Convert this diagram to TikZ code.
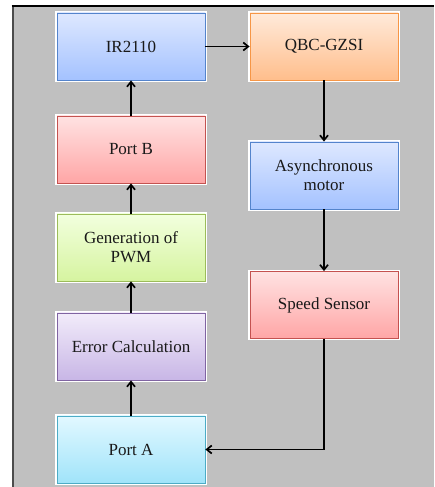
\documentclass[tikz,border=0pt]{standalone}
\usepackage{fontspec}
\setmainfont{Liberation Serif}
\newfontfamily\boxfont{Liberation Serif}
\usetikzlibrary{arrows.meta}

\definecolor{panel}{RGB}{192,192,192}
\definecolor{bluetop}{RGB}{222,232,255}
\definecolor{bluebot}{RGB}{164,194,255}
\definecolor{blueline}{RGB}{84,132,204}
\definecolor{orangetop}{RGB}{255,234,218}
\definecolor{orangebot}{RGB}{255,190,140}
\definecolor{orangeline}{RGB}{246,150,70}
\definecolor{redtop}{RGB}{255,226,226}
\definecolor{redbot}{RGB}{255,166,166}
\definecolor{redline}{RGB}{196,82,80}
\definecolor{greentop}{RGB}{242,255,222}
\definecolor{greenbot}{RGB}{214,244,160}
\definecolor{greenline}{RGB}{156,188,90}
\definecolor{purpletop}{RGB}{242,236,250}
\definecolor{purplebot}{RGB}{200,182,230}
\definecolor{purpleline}{RGB}{128,100,162}
\definecolor{cyantop}{RGB}{226,248,255}
\definecolor{cyanbot}{RGB}{160,228,250}
\definecolor{cyanline}{RGB}{76,172,198}

\begin{document}
\begin{tikzpicture}[x=1pt,y=1pt,
  box/.style={rectangle,minimum width=148pt,minimum height=67pt,align=center,
    font=\boxfont\fontsize{17}{19}\selectfont,text=black!90,line width=0.8pt,
    preaction={draw=white,line width=3.5pt}},
  flow/.style={-{Straight Barb[length=5pt,width=8pt]},line width=1.7pt}]

\useasboundingbox (0,0) rectangle (434,487);
\fill[white] (0,0) rectangle (434,487);
\fill[panel] (12.5,0) rectangle (434,481);
\draw[line width=2pt,black!70] (12.5,0) -- (12.5,481);
\draw[line width=1.5pt,black] (11.5,481) -- (434,481);

\node[box,top color=bluetop,bottom color=bluebot,draw=blueline] (ir) at (131,440.5) {IR2110};
\node[box,top color=orangetop,bottom color=orangebot,draw=orangeline] (qbc) at (324,440.5) {QBC-GZSI};
\node[box,top color=redtop,bottom color=redbot,draw=redline] (portb) at (131,337.5) {Port B};
\node[box,top color=greentop,bottom color=greenbot,draw=greenline] (pwm) at (131,239.5) {Generation of\\PWM};
\node[box,top color=purpletop,bottom color=purplebot,draw=purpleline] (err) at (131,140.5) {Error Calculation};
\node[box,top color=cyantop,bottom color=cyanbot,draw=cyanline] (porta) at (131,37.5) {Port A};
\node[box,top color=bluetop,bottom color=bluebot,draw=blueline] (motor) at (324,311.5) {Asynchronous\\motor};
\node[box,top color=redtop,bottom color=redbot,draw=redline] (sensor) at (324,182) {Speed Sensor};

\draw[flow] (porta) -- (err);
\draw[flow] (err) -- (pwm);
\draw[flow] (pwm) -- (portb);
\draw[flow] (portb) -- (ir);
\draw[flow] (ir) -- (qbc);
\draw[flow] (qbc) -- (motor);
\draw[flow] (motor) -- (sensor);
\draw[flow] (sensor.south) |- (porta.east);

\end{tikzpicture}
\end{document}
